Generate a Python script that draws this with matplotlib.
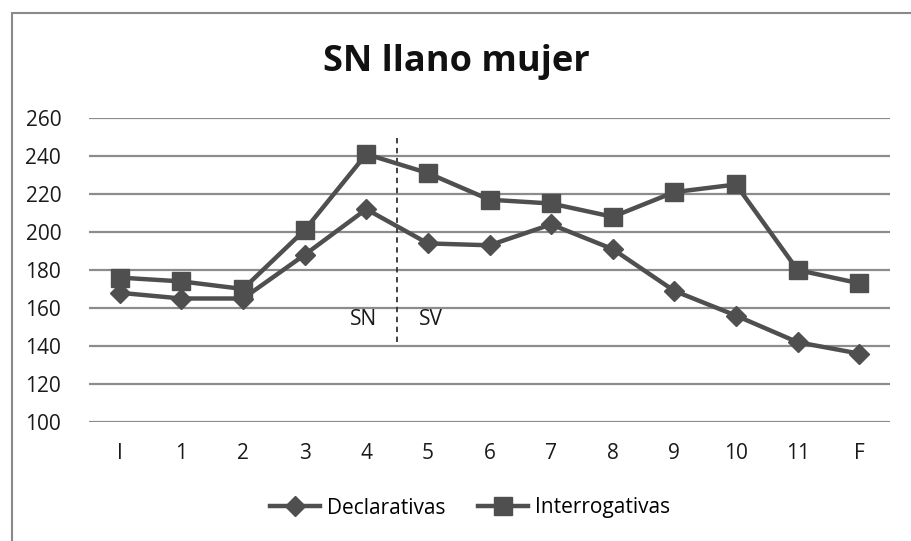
import matplotlib.pyplot as plt
from matplotlib.patches import Rectangle

plt.rcParams['font.family'] = ['Open Sans', 'DejaVu Sans']

categorias = ['I', '1', '2', '3', '4', '5', '6', '7', '8', '9', '10', '11', 'F']
declarativas = [168, 165, 165, 188, 212, 194, 193, 204, 191, 169, 156, 142, 136]
interrogativas = [176, 174, 170, 201, 241, 231, 217, 215, 208, 221, 225, 180, 173]

yticks = [100, 120, 140, 160, 180, 200, 220, 240, 260]
frontera = 4.5  # SN | SV
colorLinea = '#4f4f4f'
fontSize = 15

fig = plt.figure(figsize=(9.12, 5.41), dpi=100)
fig.patch.set_facecolor('white')
# marco del grafico
fig.add_artist(Rectangle((12/912, -0.1), 1.2, 1 - 13/541 + 0.1, transform=fig.transFigure,
                         fill=False, edgecolor='#8a8a8a', linewidth=1.5))

ax = fig.add_axes([89/912, 1 - 422/541, (890 - 89)/912, (422 - 118)/541])
x = list(range(len(categorias)))

ax.plot(x, declarativas, color=colorLinea, lw=3.2, marker='D', markersize=10,
        label='Declarativas', zorder=3)
ax.plot(x, interrogativas, color=colorLinea, lw=3.2, marker='s', markersize=12.5,
        label='Interrogativas', zorder=3)

ax.set_xlim(-0.5, len(categorias) - 0.5)
ax.set_ylim(100, 260)
ax.set_yticks(yticks)
ax.set_xticks(x)
ax.set_xticklabels(categorias)
ax.tick_params(axis='both', length=0, labelsize=fontSize, colors='#1a1a1a')
ax.tick_params(axis='y', pad=20)
ax.tick_params(axis='x', pad=15)
ax.grid(axis='y', color='#8c8c8c', linewidth=1.6)
ax.set_axisbelow(True)
for s in ax.spines.values():
    s.set_visible(False)

# separacion SN / SV
ax.plot([frontera, frontera], [142, 250], color='#333333', lw=1.3, ls=(0, (3, 2.5)), zorder=2)
ax.text(frontera - 0.55, 154, 'SN', fontsize=fontSize, ha='center', va='center', color='#1a1a1a')
ax.text(frontera + 0.55, 154, 'SV', fontsize=fontSize, ha='center', va='center', color='#1a1a1a')

fig.text(0.5, 1 - 62/541, 'SN llano mujer', fontsize=26, fontweight='bold',
         ha='center', va='center', color='#111111')

fig.legend(loc='center', bbox_to_anchor=(470/912, 1 - 508/541), ncol=2, frameon=False,
           fontsize=15, handlelength=2.4, columnspacing=1.6, handletextpad=0.3)

plt.savefig('out.png', dpi=100)
